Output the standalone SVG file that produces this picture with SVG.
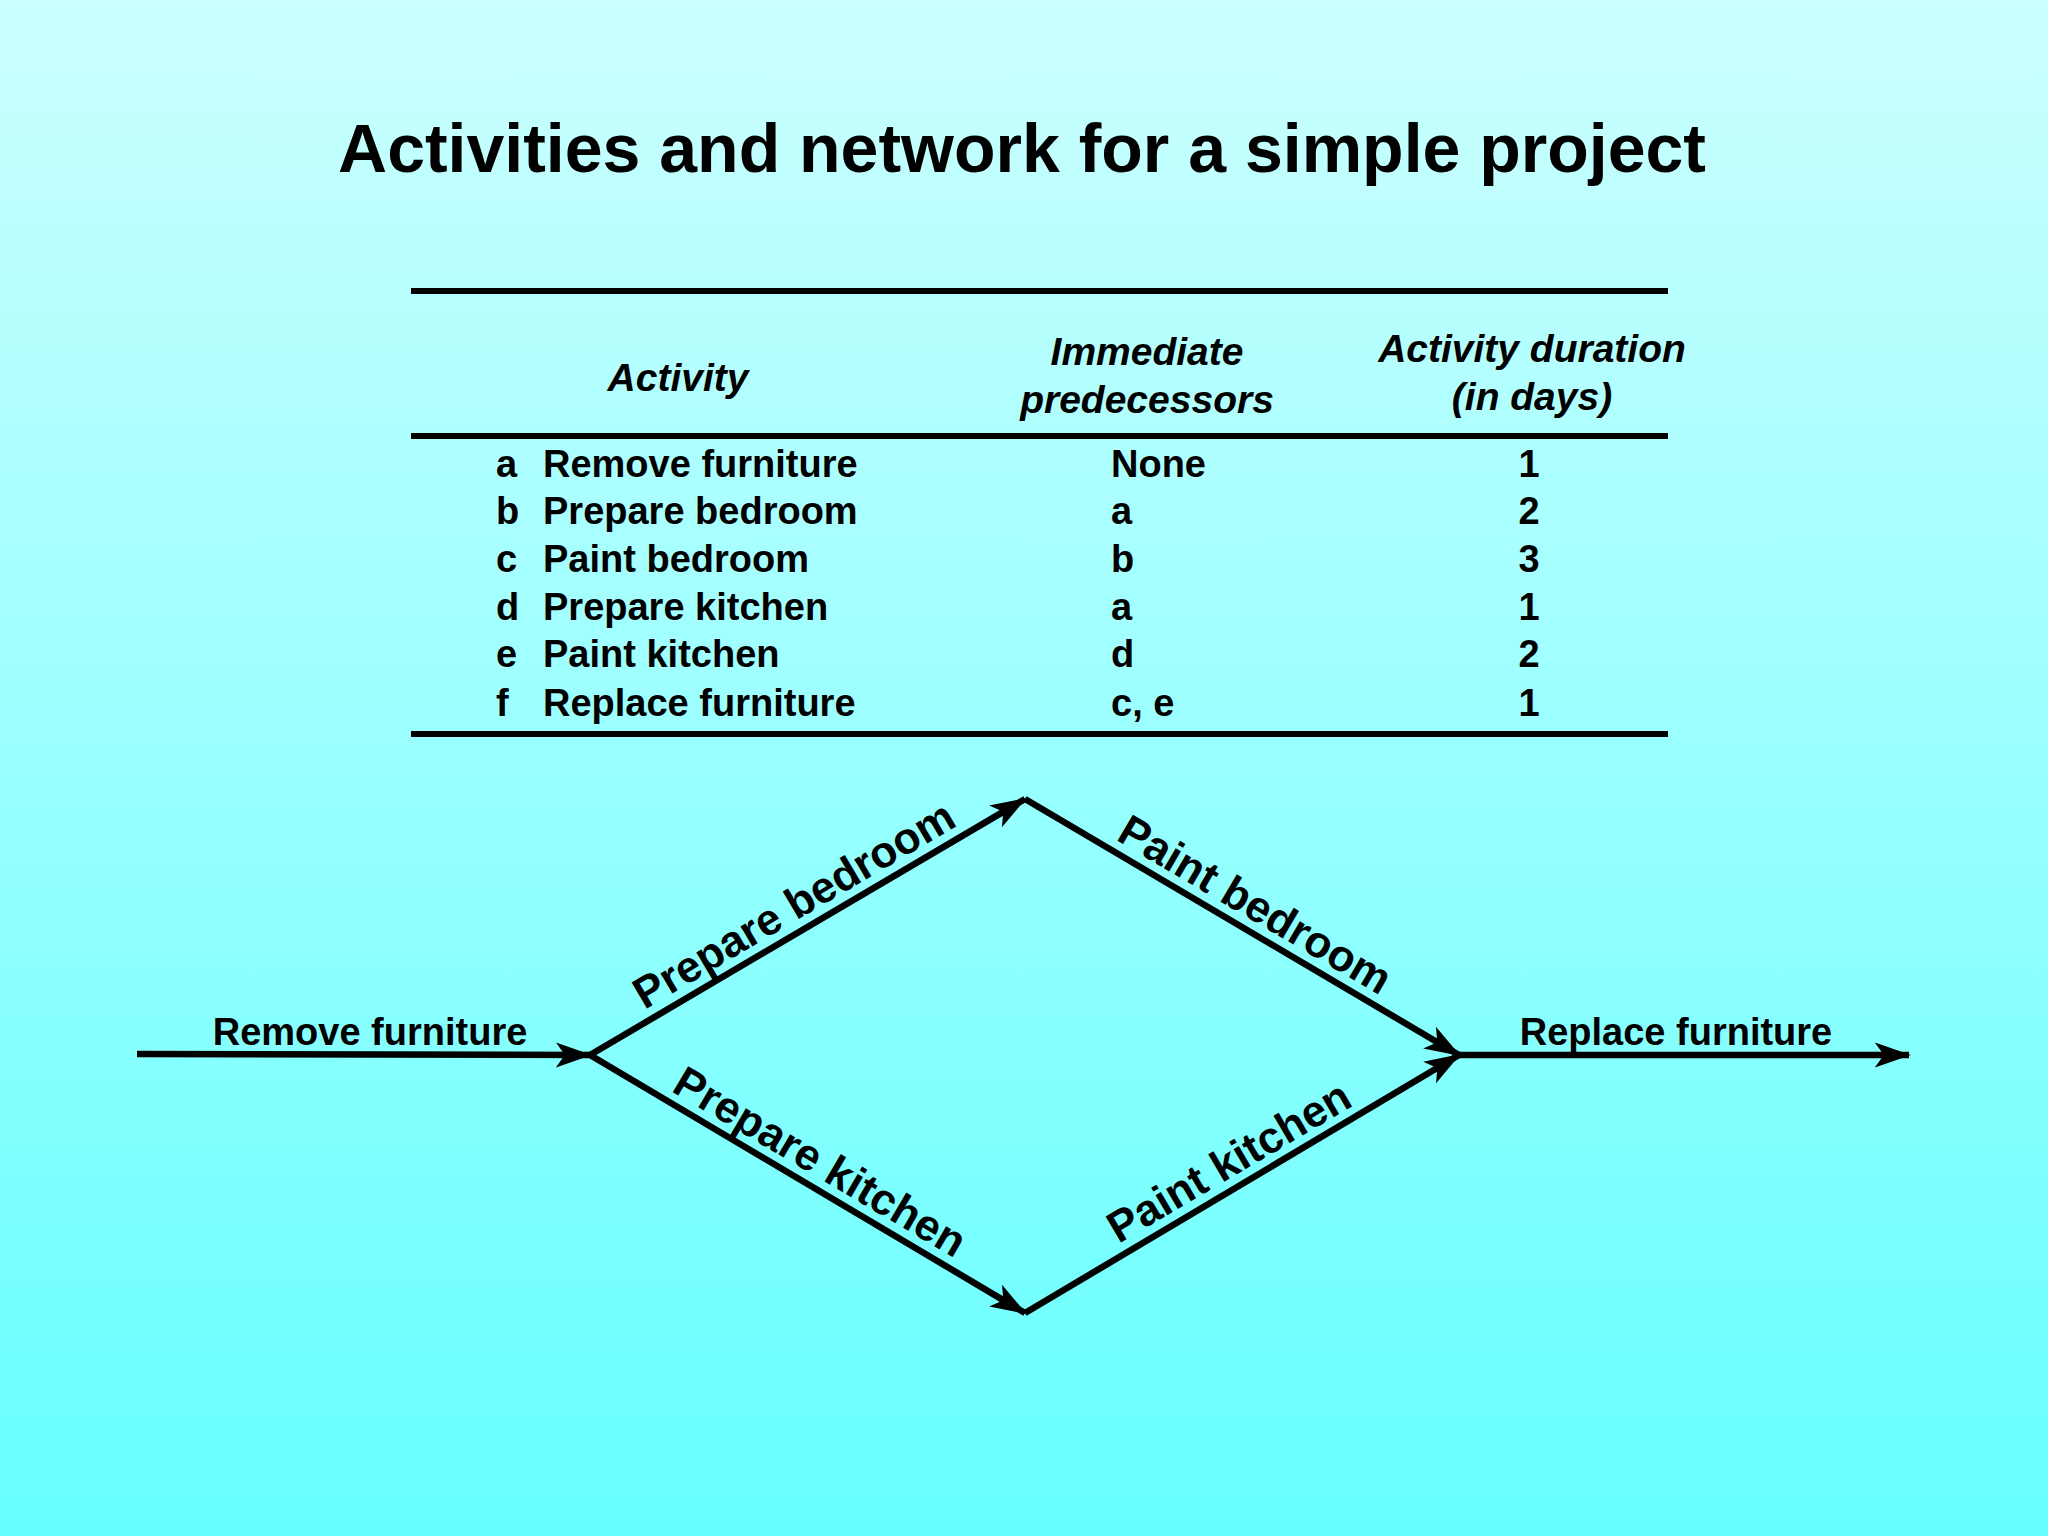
<svg xmlns="http://www.w3.org/2000/svg" width="2048" height="1536" viewBox="0 0 2048 1536">
<defs>
<linearGradient id="bg" x1="0" y1="0" x2="0" y2="1">
<stop offset="0" stop-color="#ccffff"/>
<stop offset="1" stop-color="#66ffff"/>
</linearGradient>
<marker id="ah" viewBox="0 0 20 14" refX="19" refY="7" markerUnits="userSpaceOnUse" markerWidth="36" markerHeight="26" orient="auto">
<path d="M0,0 L20,7 L0,14 L5,7 z" fill="#000"/>
</marker>
<style>
text{font-family:"Liberation Sans",Arial,sans-serif;font-weight:bold;fill:#000}
.h{font-style:italic;font-size:39px;text-anchor:middle}
.r{font-size:38px}
.c{text-anchor:middle}
.l{font-size:44px;text-anchor:middle}
.n{font-size:38px;text-anchor:middle}
.rule{stroke:#000;stroke-width:6}
.e{stroke:#000;stroke-width:6.5;fill:none}
</style>
</defs>
<rect width="2048" height="1536" fill="url(#bg)"/>
<text x="1022" y="172" font-size="68" text-anchor="middle">Activities and network for a simple project</text>
<g id="table">
<line class="rule" x1="411" y1="291" x2="1668" y2="291"/>
<line class="rule" x1="411" y1="436" x2="1668" y2="436"/>
<line class="rule" x1="411" y1="734" x2="1668" y2="734"/>
<text class="h" x="678" y="391">Activity</text>
<text class="h" x="1147" y="365">Immediate</text>
<text class="h" x="1147" y="413">predecessors</text>
<text class="h" x="1532" y="362">Activity duration</text>
<text class="h" x="1532" y="410">(in days)</text>
<g class="r">
<text x="496" y="477">a</text><text x="543" y="477">Remove furniture</text><text x="1111" y="477">None</text><text class="c" x="1529" y="477">1</text>
<text x="496" y="524">b</text><text x="543" y="524">Prepare bedroom</text><text x="1111" y="524">a</text><text class="c" x="1529" y="524">2</text>
<text x="496" y="572">c</text><text x="543" y="572">Paint bedroom</text><text x="1111" y="572">b</text><text class="c" x="1529" y="572">3</text>
<text x="496" y="620">d</text><text x="543" y="620">Prepare kitchen</text><text x="1111" y="620">a</text><text class="c" x="1529" y="620">1</text>
<text x="496" y="667">e</text><text x="543" y="667">Paint kitchen</text><text x="1111" y="667">d</text><text class="c" x="1529" y="667">2</text>
<text x="496" y="716">f</text><text x="543" y="716">Replace furniture</text><text x="1111" y="716">c, e</text><text class="c" x="1529" y="716">1</text>
</g>
</g>
<g id="connectors">
<line class="e" x1="137" y1="1054" x2="590" y2="1055" marker-end="url(#ah)"/>
<line class="e" x1="590" y1="1055" x2="1025" y2="799" marker-end="url(#ah)"/>
<line class="e" x1="590" y1="1055" x2="1025" y2="1313" marker-end="url(#ah)"/>
<line class="e" x1="1025" y1="799" x2="1459" y2="1055" marker-end="url(#ah)"/>
<line class="e" x1="1025" y1="1313" x2="1459" y2="1055" marker-end="url(#ah)"/>
<line class="e" x1="1459" y1="1055" x2="1909" y2="1055" marker-end="url(#ah)"/>
</g>
<g id="labels">
<text class="n" x="370" y="1045">Remove furniture</text>
<text class="n" x="1676" y="1045">Replace furniture</text>
<text class="l" transform="translate(807,927) rotate(-30.5)" y="-11">Prepare bedroom</text>
<text class="l" transform="translate(1242,927) rotate(30.5)" y="-11">Paint bedroom</text>
<text class="l" transform="translate(807,1184) rotate(30.5)" y="-11">Prepare kitchen</text>
<text class="l" transform="translate(1242,1184) rotate(-30.5)" y="-11">Paint kitchen</text>
</g>
</svg>
